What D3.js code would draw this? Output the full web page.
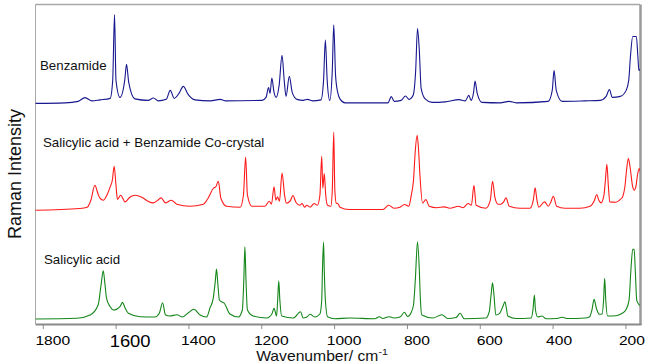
<!DOCTYPE html>
<html><head><meta charset="utf-8">
<script src="https://cdn.jsdelivr.net/npm/d3@7"></script>
<style>body{margin:0;background:#fff}svg{display:block;font-family:Arial,"Liberation Sans",sans-serif}</style>
</head><body><svg id="c" width="646" height="363"></svg>
<script>
const tickValues = [1800,1600,1400,1200,1000,800,600,400,200];
const seriesNames = ["Benzamide","Salicylic acid + Benzamide Co-crystal","Salicylic acid"];
const seriesColors = ["#17178f","#ff1a1a","#14861a"];
const seriesOffsets = [221,114,5];

const benzWn = [1821,1739,1703,1684,1665,1643,1615,1608,1603,1599,1588,1575,1570,1564,1547,1511,1496,1483,1461,1450,1439,1426,1414,1401,1382,1340,1313,1299,1198,1187,1180,1176,1171,1165,1159,1151,1143,1137,1132,1123,1115,1102,1085,1073,1060,1036,1029,1024,1019,1012,1005,1001,996,990,983,970,852,843,835,816,804,794,783,776,771,766,761,750,731,695,657,640,630,624,617,613,607,594,544,520,500,412,401,396,390,374,311,269,253,244,236,214,198,191,186,180,170,166,163,158];
const benzI = [0,0.5,2,5.7,2.5,3.5,5,23,89,23,6,23,39,21,4.5,3,5.3,2.5,4,13,5,10,17,9,3.5,2.5,4,2.5,3,6,15.7,10,25.3,11,6,18,48,23,7,27,11,4,3,4,2.5,3.5,23,63.5,23,3,33,78.7,28,10.7,4,0.5,0.5,6.7,2,3,7.3,4,8,33,75,53,15,4.5,1,1.5,3.7,2.5,8,3,11,22.3,10,1,0.5,2,0.5,2,13,33,13,2,2.5,3,7,13.7,6,7,13,23,48,67,67,48,33,35];

const coWn = [1821,1698,1678,1668,1657,1648,1643,1634,1624,1615,1609,1604,1599,1595,1586,1574,1561,1547,1528,1511,1497,1484,1475,1463,1447,1432,1396,1359,1346,1332,1324,1318,1311,1295,1258,1249,1243,1238,1226,1190,1178,1172,1165,1160,1155,1150,1143,1136,1131,1121,1113,1105,1094,1088,1081,1075,1066,1055,1046,1039,1034,1031,1027,1023,1018,1009,1005,1001,998,994,990,984,959,866,850,836,819,807,795,788,782,777,772,768,764,757,748,739,718,698,682,658,646,632,623,616,610,583,571,565,558,550,542,535,528,519,490,462,453,448,443,438,422,412,405,398,389,366,325,297,285,279,273,267,259,255,251,247,243,226,215,208,201,197,192,188,180,176,171,167,162,159];
const coI = [0,1.7,3,10,25,16,12,10,15,23.3,30,44,25,10.7,15,8.3,13,15,13,9,7.3,10,12.3,7.3,10,6,4,6,12,21.7,24,29,12,4,3,15,53.3,15,4,4,9,6,23.3,10,13.3,9,37.3,15,7,9,14.7,8,5,6.7,3,5,3,6.7,5,15,54,22,36.7,15,5,4,20,78.3,20,7,6.7,3,0.7,0.7,5,2,3,5.7,4,15,30,60,75,60,33.3,7,10.7,4,2.5,3.3,2,4,2.5,6.7,5,25,5,2,10,29,12,6,6,8,12.3,4,2,2,10,22.3,10,3,8.3,4,8,14,4,2,2,4,10,15.7,10,7.3,15,30,46,25,8.3,8,10.5,13.3,25,40,51.7,45,23.3,20,24,35,41.7,38];

const salWn = [1821,1707,1670,1648,1640,1634,1629,1625,1616,1606,1587,1581,1574,1565,1533,1492,1480,1471,1463,1451,1432,1416,1401,1385,1368,1350,1341,1332,1326,1323,1319,1315,1309,1302,1286,1263,1252,1248,1245,1242,1238,1222,1185,1171,1165,1158,1155,1152,1149,1144,1112,1092,1085,1075,1066,1053,1039,1034,1032,1029,1027,1024,1018,998,958,888,876,866,849,836,819,807,798,789,782,777,771,766,763,759,729,704,688,665,654,643,583,574,569,565,561,556,545,535,531,527,523,501,459,454,450,447,441,429,418,391,374,358,311,299,292,286,280,272,264,260,257,254,249,226,210,199,190,185,180,176,173,169,164,157];
const salI = [0,0.7,4,14,34,48.3,34,21,13,9,13,16.7,11,5.7,2.3,2,5.7,16.3,4,3,4.3,2,6,9.7,4,2,11,20.7,39,50,34,19,17.3,16,5,2,9,39,72.3,39,9,3,1,5,10.7,3,19,38.3,19,3,1,7.3,1,2,4.7,2,5,19,49,77,49,19,2.3,0.3,1,0.3,2.3,0.5,2.3,1,2,6.7,2.5,6,14,39,77.3,49,19,4,1,4.3,0.5,1.5,5.7,0.3,1,7.3,24,36.3,24,4,6,14,17.3,11,3,0.5,1,9,24,9,2,3,0.3,0.5,1.7,0.5,1,2,9,19.7,11,4.7,5,19,40.7,19,3,3.3,5.5,9,19,49,69.7,69.7,49,19,15,13];

const seriesWn = [benzWn, coWn, salWn];
const seriesI = [benzI, coI, salI];

const svg = d3.select("#c");
const L = 35.5, R = 640, T = 4.5, B = 324;
const x = d3.scaleLinear().domain([1820,160]).range([L,R]);
const y = d3.scaleLinear().domain([0,320]).range([B,T]);

svg.append("clipPath").attr("id","clip").append("rect")
  .attr("x",L).attr("y",T).attr("width",R-L).attr("height",B-T);

// frame
svg.append("line").attr("x1",L).attr("x2",L).attr("y1",T).attr("y2",B).attr("stroke","#a8a8a8").attr("stroke-width",1);
svg.append("line").attr("x1",L).attr("x2",R).attr("y1",T).attr("y2",T).attr("stroke","#a8a8a8").attr("stroke-width",1.5);
svg.append("line").attr("x1",R+0.5).attr("x2",R+0.5).attr("y1",T).attr("y2",B+1).attr("stroke","#9a9a9a").attr("stroke-width",2.5);
svg.append("line").attr("x1",L).attr("x2",R+1.5).attr("y1",B+0.5).attr("y2",B+0.5).attr("stroke","#8a8a8a").attr("stroke-width",2);

const g = svg.append("g").attr("clip-path","url(#clip)");
seriesNames.forEach((name,i)=>{
  const pts = seriesWn[i].map((w,k)=>[w, seriesI[i][k]]);
  const line = d3.line().x(d=>x(d[0])).y(d=>y(d[1]+seriesOffsets[i])).curve(d3.curveMonotoneX);
  g.append("path").datum(pts).attr("d",line).attr("fill","none")
    .attr("stroke",seriesColors[i]).attr("stroke-width",1.1).attr("stroke-linejoin","round");
});

// series labels
const labelPos = [[40,69.5],[43,146.7],[44,263.5]];
seriesNames.forEach((name,i)=>{
  svg.append("text").attr("x",labelPos[i][0]).attr("y",labelPos[i][1])
    .attr("font-size",13.3).attr("fill","#111").text(name);
});

// x axis
const ax = svg.append("g").attr("transform",`translate(0,${B+1})`)
  .call(d3.axisBottom(x).tickValues(tickValues).tickSize(4).tickFormat(d3.format("d")));
ax.select(".domain").remove();
ax.selectAll(".tick line").attr("stroke","#8a8a8a");
ax.selectAll(".tick text").attr("fill","#000").attr("font-size",13)
  .attr("font-family","Arial, 'Liberation Sans', sans-serif")
  .attr("dy",0).attr("y",20.5)
  .attr("transform",d=> d<=400 ? "translate(6,0) scale(1.2,1)" : "translate(9.5,0) scale(1.2,1)");
ax.selectAll(".tick text").filter(d=>d===1600).attr("font-size",16).attr("y",22.5)
  .attr("transform","translate(14,0) scale(1.15,1)");

// axis titles
const xt = svg.append("text").attr("transform","translate(322,361) scale(1.12,1)")
  .attr("text-anchor","middle").attr("font-size",14).attr("fill","#111");
xt.append("tspan").text("Wavenumber/ cm");
xt.append("tspan").attr("font-size",9.5).attr("dy",-6).text("-1");

svg.append("text").attr("transform","translate(21,174) rotate(-90)")
  .attr("text-anchor","middle").attr("font-size",18).attr("fill","#111").text("Raman Intensity");
</script></body></html>
